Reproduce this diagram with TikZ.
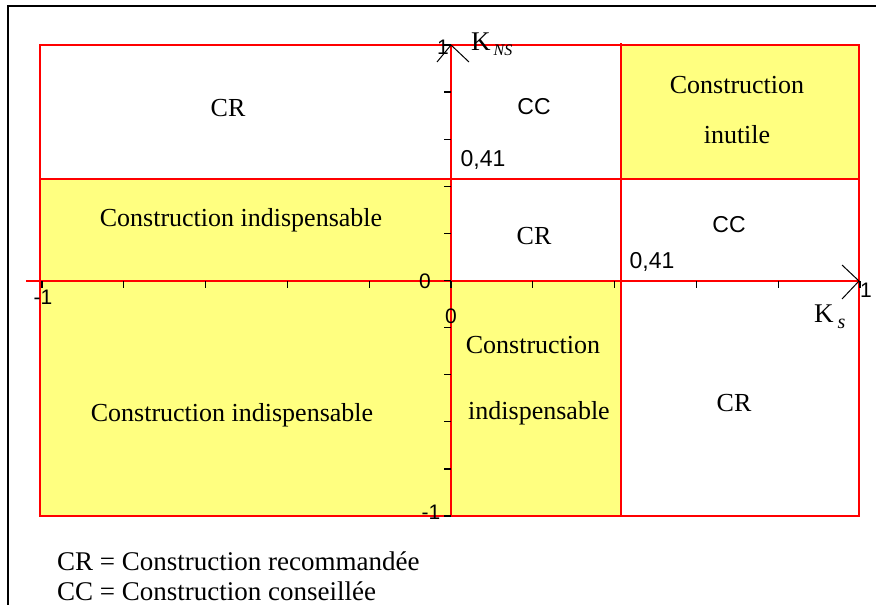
\documentclass[tikz,border=0pt]{standalone}
\usepackage{fontspec}
\setmainfont{Liberation Serif}
\newfontfamily\labsans{Liberation Sans}
\definecolor{cellyellow}{RGB}{255,255,128}
\definecolor{gridred}{RGB}{255,0,0}
\tikzset{
  gridline/.style={draw=gridred, line width=1.5pt},
  tickmark/.style={draw=black, line width=1.3pt},
  arrowarm/.style={draw=black, line width=1pt},
  framestroke/.style={draw=black, line width=1.5pt},
  celltext/.style={font=\fontsize{26}{30}\selectfont, inner sep=0pt},
  legendtext/.style={font=\fontsize{27}{30}\selectfont, inner sep=0pt},
  sanstext/.style={font=\labsans\fontsize{23}{26}\selectfont, inner sep=0pt},
  ticktext/.style={font=\labsans\fontsize{21}{24}\selectfont, inner sep=0pt},
  axistext/.style={font=\fontsize{27}{30}\selectfont, inner sep=0pt},
  yellowcell/.style={fill=cellyellow, draw=none},
}
\begin{document}
\begin{tikzpicture}[x=1pt, y=-1pt]
\useasboundingbox (0,0) rectangle (876,605);
\fill[white] (0,0) rectangle (876,605);
% grid coordinates
\coordinate (TL) at (40,45);
\coordinate (BR) at (859,516);
\coordinate (MLa) at (40,179);
\coordinate (MRa) at (859,179);
\coordinate (VTop) at (621,43);
\coordinate (VBot) at (621,516);
\coordinate (AxL) at (26,281);
\coordinate (AxR) at (859,281);
\coordinate (AyB) at (451,516);
\coordinate (AyT) at (451,45);
% yellow cells
\fill[yellowcell] (621,45) rectangle (859,179);
\fill[yellowcell] (40,179) rectangle (451,281);
\fill[yellowcell] (40,281) rectangle (451,516);
\fill[yellowcell] (451,281) rectangle (621,516);
% frame of image
\coordinate (FrA) at (8,605);
\coordinate (FrB) at (8,6);
\coordinate (FrC) at (876,6);
\draw[framestroke] (FrA) -- (FrB) -- (FrC);
% red grid
\draw[gridline] (TL) rectangle (BR);
\draw[gridline] (MLa) -- (MRa);
\draw[gridline] (VTop) -- (VBot);
\draw[gridline] (AxL) -- (AxR);
\draw[gridline] (AyB) -- (AyT);
% ticks on x axis
\foreach \i in {0,...,10} {
  \draw[tickmark] ({42+81.8*\i},281) -- ({42+81.8*\i},288);
}
% ticks on y axis
\foreach \i in {0,...,10} {
  \draw[tickmark] (444,{45+47.1*\i}) -- (451,{45+47.1*\i});
}
% arrowheads
\coordinate (ArTl) at (437,62);
\coordinate (ArTr) at (469,62);
\coordinate (ArRa) at (842,265);
\coordinate (ArRb) at (842,299);
\draw[arrowarm] (ArTl) -- (AyT) -- (ArTr);
\draw[arrowarm] (ArRa) -- (AxR) -- (ArRb);
% cell texts
\node[celltext] (t1) at (228,108) {CR};
\node[sanstext] (t2) at (534,107) {CC};
\node[celltext] (t3a) at (737,85) {Construction};
\node[celltext] (t3b) at (737,135) {inutile};
\node[celltext] (t4) at (241,220) {Construction indispensable};
\node[celltext] (t5) at (534,236) {CR};
\node[sanstext] (t6) at (729,225) {CC};
\node[celltext] (t7) at (232,415) {Construction indispensable};
\node[celltext] (t8a) at (533,345) {Construction};
\node[celltext] (t8b) at (539,413) {indispensable};
\node[celltext] (t9) at (734,403) {CR};
% axis values
\node[sanstext] (v1) at (483,160) {0,41};
\node[sanstext] (v2) at (652,262) {0,41};
\node[ticktext] (n1) at (443,47) {1};
\node[ticktext] (n2) at (425,281) {0};
\node[ticktext] (n3) at (451,316) {0};
\node[ticktext] (n4) at (43,297) {-1};
\node[ticktext] (n5) at (866,290) {1};
\node[ticktext] (n6) at (431,512) {-1};
% axis names
\node[axistext, anchor=base west] (kns) at (471,50) {K\hspace{3pt}\raisebox{-5pt}{\fontsize{16}{17}\selectfont\itshape NS}};
\node[axistext, anchor=base west] (ks) at (814,322) {K\hspace{4pt}\raisebox{-6pt}{\fontsize{20}{21}\selectfont\itshape s}};
% legend
\node[legendtext, anchor=west] (lg1) at (57,561) {CR = Construction recommandée};
\node[legendtext, anchor=west] (lg2) at (57,591) {CC = Construction conseillée};
\end{tikzpicture}
\end{document}
